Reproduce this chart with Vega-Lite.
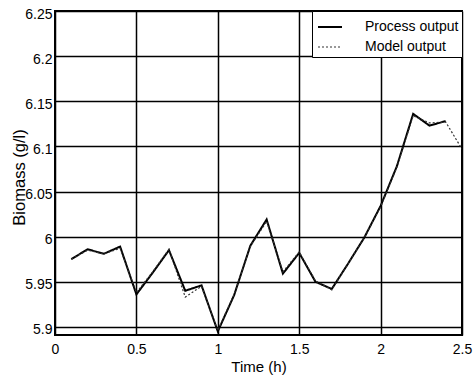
{
  "$schema": "https://vega.github.io/schema/vega-lite/v6.json",
  "autosize": "none",
  "width": 407,
  "height": 324,
  "padding": {"left": 55, "top": 11, "right": 12, "bottom": 50},
  "background": "white",
  "config": {
    "font": "Liberation Sans",
    "view": {"stroke": "black", "strokeWidth": 2},
    "axis": {
      "grid": true,
      "gridColor": "black",
      "gridOpacity": 1,
      "gridWidth": 1.5,
      "domain": false,
      "ticks": false,
      "labelFont": "Liberation Sans",
      "labelFontSize": 14,
      "labelColor": "black",
      "labelOverlap": false,
      "titleFont": "Liberation Sans",
      "titleFontWeight": "normal",
      "titleColor": "black"
    },
    "legend": {
      "labelFont": "Liberation Sans",
      "labelFontSize": 14,
      "labelColor": "black"
    }
  },
  "data": {
    "values": [
      {"t": 0.1, "v": 5.975, "series": "Process output"},
      {"t": 0.2, "v": 5.986, "series": "Process output"},
      {"t": 0.3, "v": 5.981, "series": "Process output"},
      {"t": 0.4, "v": 5.989, "series": "Process output"},
      {"t": 0.5, "v": 5.936, "series": "Process output"},
      {"t": 0.6, "v": 5.960, "series": "Process output"},
      {"t": 0.7, "v": 5.985, "series": "Process output"},
      {"t": 0.8, "v": 5.940, "series": "Process output"},
      {"t": 0.9, "v": 5.946, "series": "Process output"},
      {"t": 1.0, "v": 5.895, "series": "Process output"},
      {"t": 1.1, "v": 5.935, "series": "Process output"},
      {"t": 1.2, "v": 5.990, "series": "Process output"},
      {"t": 1.3, "v": 6.019, "series": "Process output"},
      {"t": 1.4, "v": 5.959, "series": "Process output"},
      {"t": 1.5, "v": 5.982, "series": "Process output"},
      {"t": 1.6, "v": 5.950, "series": "Process output"},
      {"t": 1.7, "v": 5.942, "series": "Process output"},
      {"t": 1.8, "v": 5.970, "series": "Process output"},
      {"t": 1.9, "v": 5.999, "series": "Process output"},
      {"t": 2.0, "v": 6.034, "series": "Process output"},
      {"t": 2.1, "v": 6.078, "series": "Process output"},
      {"t": 2.2, "v": 6.136, "series": "Process output"},
      {"t": 2.3, "v": 6.123, "series": "Process output"},
      {"t": 2.4, "v": 6.128, "series": "Process output"},
      {"t": 0.1, "v": 5.975, "series": "Model output"},
      {"t": 0.2, "v": 5.985, "series": "Model output"},
      {"t": 0.3, "v": 5.981, "series": "Model output"},
      {"t": 0.4, "v": 5.987, "series": "Model output"},
      {"t": 0.5, "v": 5.938, "series": "Model output"},
      {"t": 0.6, "v": 5.961, "series": "Model output"},
      {"t": 0.7, "v": 5.986, "series": "Model output"},
      {"t": 0.8, "v": 5.933, "series": "Model output"},
      {"t": 0.9, "v": 5.945, "series": "Model output"},
      {"t": 1.0, "v": 5.896, "series": "Model output"},
      {"t": 1.1, "v": 5.936, "series": "Model output"},
      {"t": 1.2, "v": 5.989, "series": "Model output"},
      {"t": 1.3, "v": 6.017, "series": "Model output"},
      {"t": 1.4, "v": 5.961, "series": "Model output"},
      {"t": 1.5, "v": 5.983, "series": "Model output"},
      {"t": 1.6, "v": 5.951, "series": "Model output"},
      {"t": 1.7, "v": 5.941, "series": "Model output"},
      {"t": 1.8, "v": 5.970, "series": "Model output"},
      {"t": 1.9, "v": 5.999, "series": "Model output"},
      {"t": 2.0, "v": 6.033, "series": "Model output"},
      {"t": 2.1, "v": 6.077, "series": "Model output"},
      {"t": 2.2, "v": 6.134, "series": "Model output"},
      {"t": 2.3, "v": 6.126, "series": "Model output"},
      {"t": 2.4, "v": 6.127, "series": "Model output"},
      {"t": 2.5, "v": 6.097, "series": "Model output"}
    ]
  },
  "mark": {"type": "line", "clip": true},
  "encoding": {
    "x": {
      "field": "t",
      "type": "quantitative",
      "title": "Time (h)",
      "scale": {"domain": [0, 2.5], "nice": false, "zero": false},
      "axis": {
        "values": [0, 0.5, 1, 1.5, 2, 2.5],
        "format": "~g",
        "labelFlush": false,
        "labelPadding": 7,
        "titleFontSize": 15,
        "titlePadding": 3
      }
    },
    "y": {
      "field": "v",
      "type": "quantitative",
      "title": "Biomass (g/l)",
      "scale": {"domain": [5.891, 6.25], "nice": false, "zero": false},
      "axis": {
        "values": [5.9, 5.95, 6, 6.05, 6.1, 6.15, 6.2, 6.25],
        "format": "~g",
        "labelPadding": 3,
        "labelOffset": 3,
        "titleFontSize": 16.5,
        "titleX": -36,
        "titleY": 166,
        "titleAngle": -90,
        "titleAlign": "center",
        "titleBaseline": "middle"
      }
    },
    "color": {
      "field": "series",
      "type": "nominal",
      "scale": {"domain": ["Process output", "Model output"], "range": ["black", "#333333"]},
      "legend": {
        "title": null,
        "orient": "top-right",
        "offset": 0,
        "padding": 3,
        "strokeColor": "black",
        "fillColor": "white",
        "symbolType": "stroke",
        "symbolSize": 576,
        "symbolStrokeWidth": 2,
        "symbolOffset": 2,
        "labelOffset": 22,
        "rowPadding": -4
      }
    },
    "strokeDash": {
      "field": "series",
      "type": "nominal",
      "scale": {"domain": ["Process output", "Model output"], "range": [[1, 0], [2, 2]]},
      "legend": null
    },
    "strokeWidth": {
      "field": "series",
      "type": "nominal",
      "scale": {"domain": ["Process output", "Model output"], "range": [2, 1.2]},
      "legend": null
    }
  }
}
